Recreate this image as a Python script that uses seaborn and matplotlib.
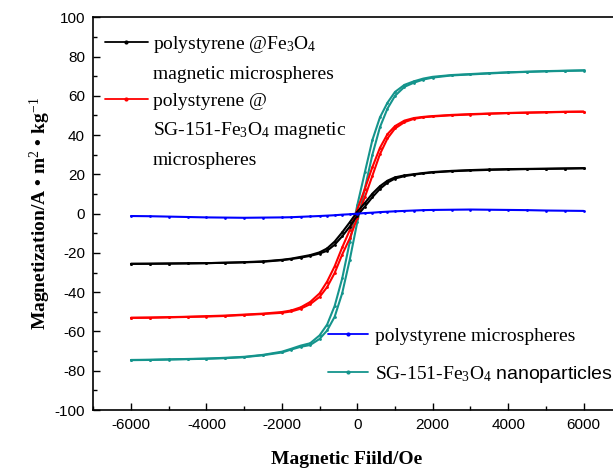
import numpy as np
import pandas as pd
import matplotlib
matplotlib.use('Agg')
import matplotlib.pyplot as plt
from matplotlib.lines import Line2D
from matplotlib.ticker import MultipleLocator
import seaborn as sns

# 磁场扫描点 (Oe)，从 +6000 扫到 -6000，再扫回去
H_down = [6000, 5500, 5000, 4500, 4000, 3500, 3000, 2500, 2000, 1750, 1500, 1250,
          1000, 800, 600, 400, 200, 0, -200, -400, -600, -800, -1000, -1250,
          -1500, -1750, -2000, -2500, -3000, -3500, -4000, -4500, -5000, -5500, -6000]
H_up = H_down[::-1]

# SG-151-Fe3O4 nanoparticles
teal_down = [73.0, 72.8, 72.6, 72.3, 72.0, 71.6, 71.1, 70.6, 69.7, 68.8, 67.4, 65.6,
             62.0, 56.5, 49.0, 37.5, 21.0, 4.3, -14.5, -33.0, -47.0, -56.5, -62.0, -66.0,
             -67.2, -68.8, -70.3, -71.9, -72.9, -73.4, -73.8, -74.0, -74.2, -74.4, -74.5]
teal_up = [-74.6, -74.5, -74.3, -74.1, -73.9, -73.6, -73.1, -72.1, -70.7, -69.2, -67.8, -66.9,
           -63.8, -59.5, -52.5, -40.5, -23.5, -4.3, 12.8, 30.0, 44.0, 53.5, 60.0, 64.6,
           66.7, 68.3, 69.3, 70.4, 70.9, 71.4, 71.9, 72.2, 72.5, 72.7, 72.9]

# polystyrene @ SG-151-Fe3O4 magnetic microspheres
red_down = [52.0, 51.9, 51.7, 51.5, 51.3, 51.0, 50.7, 50.3, 49.7, 49.3, 48.7, 47.4,
            44.6, 40.5, 33.5, 23.7, 12.6, 2.1, -8.4, -17.2, -26.8, -34.6, -40.6, -45.0,
            -47.7, -49.3, -50.1, -50.9, -51.4, -51.9, -52.2, -52.5, -52.7, -52.9, -53.0]
red_up = [-53.1, -53.0, -52.8, -52.6, -52.4, -52.1, -51.6, -51.1, -50.5, -49.8, -48.4, -46.1,
          -42.4, -37.4, -30.2, -20.8, -12.6, -2.1, 8.4, 19.3, 30.3, 38.3, 43.4, 46.6,
          48.3, 49.1, 49.5, 50.1, 50.5, 50.9, 51.2, 51.4, 51.6, 51.8, 51.9]

# polystyrene @Fe3O4 magnetic microspheres
black_down = [23.2, 23.0, 22.9, 22.8, 22.7, 22.5, 22.2, 21.8, 21.2, 20.7, 20.1, 19.5,
              18.5, 16.8, 14.0, 10.2, 5.4, 1.0, -4.4, -9.5, -14.2, -17.7, -19.7, -21.1,
              -22.0, -22.9, -23.5, -24.3, -24.7, -25.0, -25.2, -25.3, -25.4, -25.5, -25.5]
black_up = [-25.6, -25.5, -25.4, -25.3, -25.2, -25.0, -24.8, -24.5, -23.7, -23.1, -22.4, -21.5,
            -20.3, -18.9, -15.8, -11.5, -6.6, -1.0, 3.6, 8.4, 12.6, 15.8, 17.9, 19.1,
            19.9, 20.5, 21.0, 21.6, 22.0, 22.3, 22.5, 22.7, 22.8, 23.0, 23.1]

# polystyrene microspheres
blue_up = [-1.2, -1.3, -1.5, -1.7, -1.9, -2.0, -2.1, -2.0, -1.9, -1.8, -1.6, -1.4,
           -1.2, -1.0, -0.8, -0.5, -0.3, 0.0, 0.3, 0.5, 0.8, 1.0, 1.2, 1.4,
           1.6, 1.8, 1.9, 2.0, 2.1, 2.0, 1.9, 1.8, 1.6, 1.5, 1.4]

samples = ['SG-151-Fe3O4', 'PS@SG-151-Fe3O4', 'PS@Fe3O4', 'PS']
colors = {'SG-151-Fe3O4': '#14948c', 'PS@SG-151-Fe3O4': '#ff0000',
          'PS@Fe3O4': '#000000', 'PS': '#0000ff'}

rows = []
for name, down, up in [('SG-151-Fe3O4', teal_down, teal_up),
                       ('PS@SG-151-Fe3O4', red_down, red_up),
                       ('PS@Fe3O4', black_down, black_up)]:
    for h, m in zip(H_down, down):
        rows.append((name, 'down', h, m))
    for h, m in zip(H_up, up):
        rows.append((name, 'up', h, m))
for h, m in zip(H_up, blue_up):
    rows.append(('PS', 'up', h, m))
df = pd.DataFrame(rows, columns=['sample', 'branch', 'H', 'M'])

sns.set_theme(style='ticks')
plt.rcParams['font.family'] = ['Liberation Serif', 'DejaVu Serif']
plt.rcParams['mathtext.fontset'] = 'custom'
plt.rcParams['mathtext.rm'] = 'Liberation Serif'
plt.rcParams['mathtext.it'] = 'Liberation Serif:italic'
plt.rcParams['mathtext.bf'] = 'Liberation Serif:bold'
plt.rcParams['mathtext.sf'] = 'Liberation Sans'
plt.rcParams['axes.unicode_minus'] = False
for k in ['text.color', 'axes.labelcolor', 'xtick.color', 'ytick.color', 'axes.edgecolor']:
    plt.rcParams[k] = 'black'

fig = plt.figure(figsize=(6.13, 4.68), dpi=100)
ax = fig.add_axes([0.1522, 0.1239, 0.8613, 0.8391])

sns.lineplot(data=df, x='H', y='M', hue='sample', units='branch', estimator=None,
             sort=False, hue_order=samples, palette=colors, marker='o',
             markersize=2, markeredgewidth=0, linewidth=1.5, legend=False, ax=ax)

ax.set_xlim(-7000, 7000)
ax.set_ylim(-100, 100)
ax.set_xticks(range(-6000, 6001, 2000))
ax.set_yticks(range(-100, 101, 20))
ax.xaxis.set_minor_locator(MultipleLocator(1000))
ax.yaxis.set_minor_locator(MultipleLocator(10))
ax.tick_params(which='both', direction='in', top=False, right=False, width=1,
               labelsize=11, labelfontfamily='Liberation Sans', pad=6)
ax.tick_params(which='major', length=5)
ax.tick_params(which='minor', length=3)
ax.spines['right'].set_visible(False)
for s in ['left', 'bottom', 'top']:
    ax.spines[s].set_linewidth(1.2)

ax.set_xlabel('Magnetic Fiild/Oe', fontsize=14, fontweight='bold')
ax.xaxis.set_label_coords(0.48, -0.105)
ax.set_ylabel('Magnetization/A • m$^2$ • kg$^{-1}$', fontsize=14, fontweight='bold')
ax.yaxis.set_label_coords(-0.076, 0.5)

def handle(c):
    return Line2D([], [], color=c, marker='o', markersize=3, markeredgewidth=0, linewidth=1.3)

blank = Line2D([], [], color='none')
leg1 = ax.legend([handle('black'), blank, handle('#ff0000'), blank, blank],
                 ['polystyrene @Fe$_3$O$_4$', 'magnetic microspheres', 'polystyrene @',
                  'SG-151-Fe$_3$O$_4$ magnetic', 'microspheres'],
                 loc='upper left', bbox_to_anchor=(0.022, 0.958), frameon=False,
                 fontsize=14, handlelength=2.2, handletextpad=0.25, labelspacing=0.52,
                 borderpad=0, borderaxespad=0, numpoints=1)
ax.add_artist(leg1)
ax.legend([handle('#0000ff'), handle('#14948c')],
          ['polystyrene microspheres', 'SG-151-Fe$_3$O$_4$ $\\mathsf{nanoparticles}$'],
          loc='upper left', bbox_to_anchor=(0.4445, 0.21), frameon=False,
          fontsize=14, handlelength=2.05, handletextpad=0.36, labelspacing=0.95,
          borderpad=0, borderaxespad=0, numpoints=1)

fig.savefig('out.png', dpi=100)
